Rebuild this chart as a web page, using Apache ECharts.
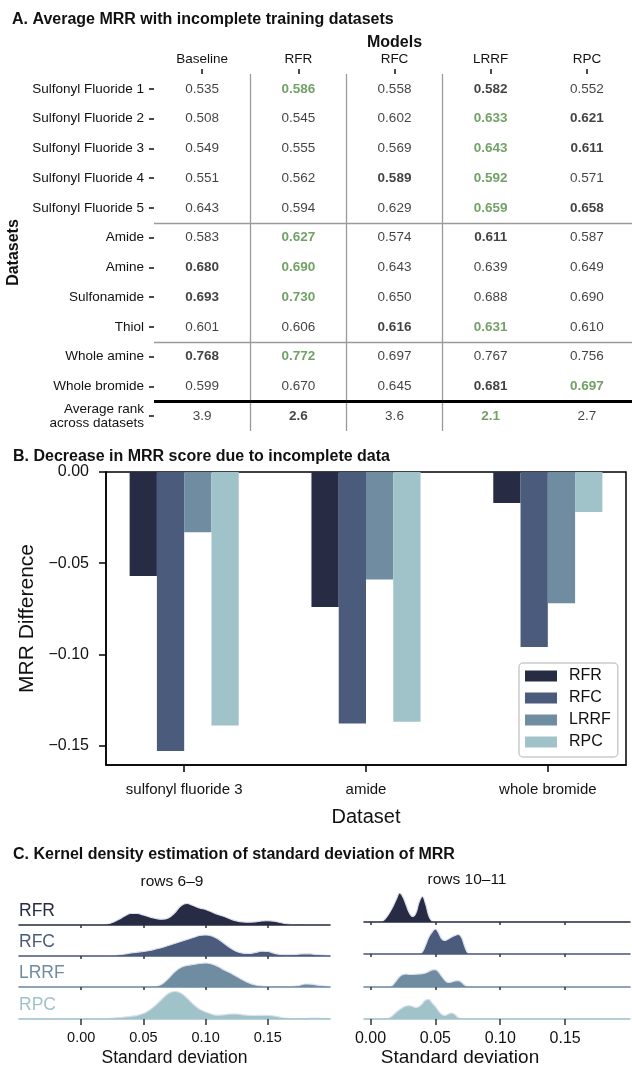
<!DOCTYPE html>
<html><head><meta charset="utf-8">
<script src="https://cdn.jsdelivr.net/npm/echarts@6/dist/echarts.min.js"></script>
<style>html,body{margin:0;padding:0;background:#fff}#c{width:632px;height:1072px}</style>
</head><body><div id="c"></div>
<script>
// ---------- Panel A data ----------
const models = ['Baseline', 'RFR', 'RFC', 'LRRF', 'RPC'];
const datasets = ['Sulfonyl Fluoride 1', 'Sulfonyl Fluoride 2', 'Sulfonyl Fluoride 3', 'Sulfonyl Fluoride 4', 'Sulfonyl Fluoride 5',
  'Amide', 'Amine', 'Sulfonamide', 'Thiol', 'Whole amine', 'Whole bromide'];
const rankLabel = 'Average rank\nacross datasets';
const mrrBaseline = [0.535, 0.508, 0.549, 0.551, 0.643, 0.583, 0.680, 0.693, 0.601, 0.768, 0.599];
const mrrRFR      = [0.586, 0.545, 0.555, 0.562, 0.594, 0.627, 0.690, 0.730, 0.606, 0.772, 0.670];
const mrrRFC      = [0.558, 0.602, 0.569, 0.589, 0.629, 0.574, 0.643, 0.650, 0.616, 0.697, 0.645];
const mrrLRRF     = [0.582, 0.633, 0.643, 0.592, 0.659, 0.611, 0.639, 0.688, 0.631, 0.767, 0.681];
const mrrRPC      = [0.552, 0.621, 0.611, 0.571, 0.658, 0.587, 0.649, 0.690, 0.610, 0.756, 0.697];
const avgRank     = [3.9, 2.6, 3.6, 2.1, 2.7];
const datasetGroupSizes = [5, 4, 2];
const modelDividers = [1, 2, 3];

// ---------- Panel B data ----------
const barCategories = ['sulfonyl fluoride 3', 'amide', 'whole bromide'];
const barModels = ['RFR', 'RFC', 'LRRF', 'RPC'];
const diffRFR  = [-0.057, -0.074, -0.017];
const diffRFC  = [-0.153, -0.138, -0.096];
const diffLRRF = [-0.033, -0.059, -0.072];
const diffRPC  = [-0.139, -0.137, -0.022];
const diffTicks = [0, -0.05, -0.10, -0.15];

// ---------- Panel C data ----------
const kdeModels = ['RFR', 'RFC', 'LRRF', 'RPC'];
const sdTicks = [0, 0.05, 0.10, 0.15];
const sdRows69 = [-0.05, 0.015, 0.020, 0.025, 0.030, 0.035, 0.040, 0.045, 0.050, 0.055, 0.060, 0.065, 0.070, 0.075, 0.080,
  0.085, 0.090, 0.095, 0.100, 0.105, 0.110, 0.115, 0.120, 0.125, 0.130, 0.135, 0.140, 0.145, 0.150, 0.155, 0.160,
  0.165, 0.170, 0.175, 0.180, 0.185, 0.190, 0.195, 0.200];
const kdeRFR69  = [0, 0, 0.5, 2.5, 5.5, 9, 11.5, 11.5, 10, 8, 6.5, 5.8, 7, 12, 19, 21.5, 19.5, 17, 15.5, 13, 10.5, 8.5, 6, 4, 3, 2.8, 3.2, 4, 4.3, 3.8, 2.5, 1.2, 0.5, 0.2, 0, 0, 0, 0, 0];
const kdeRFC69  = [0, 0, 0, 0.3, 1, 2, 3, 3.8, 4.5, 5.5, 7, 8.5, 10.5, 12.5, 14.5, 16.5, 18.5, 20.5, 21, 20, 17, 12.5, 8, 4.5, 2.8, 2.5, 3.5, 4.8, 4.5, 2.8, 1.5, 1.2, 1.3, 1.8, 2.2, 2, 1.3, 0.8, 0.5];
const kdeLRRF69 = [0, 0, 0, 0, 0, 0, 0, 0, 0, 0, 0.5, 3, 8.5, 15, 19.5, 21.5, 22.5, 23.5, 24, 23, 20.5, 17, 14, 10.5, 7, 4, 2, 1, 0.5, 0.3, 0.3, 0.3, 0.5, 1.5, 3, 2.8, 1.8, 1, 0.5];
const kdeRPC69  = [0, 0, 0.2, 0.7, 1.3, 2, 2.7, 3.7, 5.5, 9, 14, 20, 25.5, 27.5, 26, 21, 15, 10, 7, 4.8, 3.8, 4.2, 5, 5, 4.2, 3.6, 3.5, 3.7, 3.7, 3, 1.8, 0.8, 0.4, 0.3, 0.5, 0.8, 0.8, 0.6, 0.5];
const sdRows1011 = [-0.005, 0.005, 0.0075, 0.01, 0.0125, 0.015, 0.0175, 0.02, 0.0225, 0.025, 0.0275, 0.03, 0.0325, 0.035,
  0.0375, 0.04, 0.0425, 0.045, 0.0475, 0.05, 0.0525, 0.055, 0.0575, 0.06, 0.0625, 0.065, 0.0675, 0.07, 0.0725, 0.075,
  0.0775, 0.08, 0.2];
const kdeRFR1011  = [0, 0, 0, 1.5, 5, 10, 16, 23, 29, 25, 17, 9, 5.5, 9, 20, 25.5, 18, 6, 0.8, 0, 0, 0, 0, 0, 0, 0, 0, 0, 0, 0, 0, 0, 0];
const kdeRFC1011  = [0, 0, 0, 0, 0, 0, 0, 0, 0, 0, 0, 0, 0, 0, 0, 2, 9, 17, 22, 25, 21, 15, 13.5, 15, 17, 18.5, 19.5, 17, 8, 1, 0, 0, 0];
const kdeLRRF1011 = [0, 0, 0, 0, 0, 0, 2.5, 6.5, 10.5, 12.5, 13, 12.5, 12.5, 12.8, 13, 13.3, 14, 15.5, 17, 17.3, 15, 10.5, 6.5, 4.5, 5, 6, 6.3, 5, 2, 0.3, 0, 0, 0];
const kdeRPC1011  = [0, 0, 0, 0, 0, 1.5, 4, 7, 9.5, 11.5, 13, 13.3, 12.5, 11.5, 12.5, 15.5, 19, 19.5, 16, 12.5, 8, 4.5, 3.5, 5, 6, 4.5, 1.5, 0, 0, 0, 0, 0, 0];

// ---------- styling ----------
const FONT = 'Liberation Sans, Arial, Helvetica, sans-serif';
const INK = '#111111';
const GREEN = '#4f8a3f';
const PALETTE = ['#272c44', '#4b5b7b', '#6f8ca1', '#a0c2c9'];

// ---------- Panel A build ----------
const tableCols = [mrrBaseline, mrrRFR, mrrRFC, mrrLRRF, mrrRPC];
const rowLabels = datasets.concat([rankLabel]);
function ranks(vals, higherBetter) {
  const order = vals.map((v, i) => i).sort((a, b) => higherBetter ? vals[b] - vals[a] : vals[a] - vals[b]);
  return vals.map((v, i) => i === order[0] ? 'best' : (i === order[1] ? 'second' : 'normal'));
}
function cellLabel(text, st) {
  return { formatter: text, color: st === 'best' ? GREEN : INK, fontWeight: st === 'normal' ? 'normal' : 'bold' };
}
const cells = [];
datasets.forEach((d, r) => {
  const vals = tableCols.map(c => c[r]);
  const st = ranks(vals, true);
  vals.forEach((v, c) => cells.push({ value: [c, r, v], label: cellLabel(v.toFixed(3), st[c]) }));
});
const rankSt = ranks(avgRank, false);
avgRank.forEach((v, c) => cells.push({ value: [c, datasets.length, v], label: cellLabel(v.toFixed(1), rankSt[c]) }));

const rowBreaks = [];
datasetGroupSizes.reduce((acc, s) => { rowBreaks.push(acc + s); return acc + s; }, 0);
const sepLines = modelDividers.map(x => ({ xAxis: x }))
  .concat(rowBreaks.slice(0, -1).map(y => ({ yAxis: y })))
  .concat([{ yAxis: rowBreaks[rowBreaks.length - 1], lineStyle: { color: '#000', width: 3, type: 'solid' } }]);

// ---------- layout ----------
const grids = [
  { left: 154, top: 74, width: 481, height: 357, outerBoundsMode: 'none' },
  { left: 106, top: 472, width: 520, height: 293, show: true, borderColor: '#000', borderWidth: 1.5, backgroundColor: 'transparent', outerBoundsMode: 'none' }
];
const xAxes = [
  { type: 'category', gridIndex: 0, data: models, position: 'top',
    axisLine: { show: false },
    axisTick: { show: true, alignWithLabel: true, interval: 0, length: 5, lineStyle: { color: INK, width: 1.5 } },
    axisLabel: { interval: 0, fontSize: 13.5, color: INK, margin: 8, fontFamily: FONT },
    splitLine: { show: false },
    name: 'Models', nameLocation: 'middle', nameGap: 23,
    nameTextStyle: { fontSize: 16, fontWeight: 'bold', color: INK, fontFamily: FONT } },
  { type: 'value', gridIndex: 0, min: 0, max: models.length, show: false },
  { type: 'value', gridIndex: 1, min: -0.43, max: 2.43,
    axisLine: { show: true, onZero: false, lineStyle: { color: '#000', width: 1.5 } },
    axisTick: { show: true, customValues: [0, 1, 2], length: 7, lineStyle: { color: '#000', width: 1.5 } },
    axisLabel: { customValues: [0, 1, 2], formatter: v => barCategories[Math.round(v)], fontSize: 15, color: INK, margin: 17, fontFamily: FONT },
    splitLine: { show: false },
    name: 'Dataset', nameLocation: 'middle', nameGap: 42,
    nameTextStyle: { fontSize: 20, color: INK, fontFamily: FONT } }
];
const yAxes = [
  { type: 'category', gridIndex: 0, data: rowLabels, inverse: true,
    axisLine: { show: false },
    axisTick: { show: true, alignWithLabel: true, interval: 0, length: 5, lineStyle: { color: INK, width: 1.5 } },
    axisLabel: { interval: 0, fontSize: 13.5, color: INK, margin: 10, lineHeight: 14, fontFamily: FONT },
    splitLine: { show: false },
    name: 'Datasets', nameLocation: 'middle', nameGap: 118, nameRotate: 90,
    nameTextStyle: { fontSize: 16, fontWeight: 'bold', color: INK, fontFamily: FONT } },
  { type: 'value', gridIndex: 0, min: 0, max: rowLabels.length, inverse: true, show: false },
  { type: 'value', gridIndex: 1, min: -0.1607, max: 0,
    axisLine: { show: true, onZero: false, lineStyle: { color: '#000', width: 1.5 } },
    axisTick: { show: true, customValues: diffTicks, length: 7, lineStyle: { color: '#000', width: 1.5 } },
    axisLabel: { customValues: diffTicks, fontSize: 16, color: INK, margin: 17, fontFamily: FONT,
      formatter: v => { const s = Math.abs(v).toFixed(2); return v < -1e-9 ? '\u2212' + s : s; } },
    splitLine: { show: false },
    name: 'MRR Difference', nameLocation: 'middle', nameGap: 63, nameRotate: 90,
    nameTextStyle: { fontSize: 21, color: INK, fontFamily: FONT } }
];

const series = [
  { type: 'scatter', xAxisIndex: 0, yAxisIndex: 0, data: cells, symbol: 'circle', symbolSize: 1,
    itemStyle: { color: 'transparent' }, silent: true,
    label: { show: true, position: 'inside', fontSize: 13.5, fontFamily: FONT, color: INK } },
  { type: 'line', xAxisIndex: 1, yAxisIndex: 1, data: [], silent: true,
    markLine: { silent: true, symbol: ['none', 'none'], label: { show: false },
      lineStyle: { color: '#9a9a9a', width: 1.3, type: 'solid' }, data: sepLines } }
];
const diffs = [diffRFR, diffRFC, diffLRRF, diffRPC];
barModels.forEach((m, i) => {
  series.push({ type: 'bar', name: m, xAxisIndex: 2, yAxisIndex: 2,
    data: barCategories.map((c, j) => [j, diffs[i][j]]),
    barWidth: '15%', barGap: '0%', itemStyle: { color: PALETTE[i] } });
});

// ---------- Panel C grids ----------
const panels = [
  { xs: sdRows69, vals: [kdeRFR69, kdeRFC69, kdeLRRF69, kdeRPC69], left: 19, width: 311, min: -0.05,
    baselines: [925, 956, 987, 1019], tickFont: 14.5, labelMargin: 11, nameFont: 17.5, nameGap: 30, namePad: [0, 0, 0, 0], tag: 'rows 6–9' },
  { xs: sdRows1011, vals: [kdeRFR1011, kdeRFC1011, kdeLRRF1011, kdeRPC1011], left: 364, width: 266, min: -0.005,
    baselines: [922, 954, 987, 1019], tickFont: 16, labelMargin: 12, nameFont: 19, nameGap: 29, namePad: [0, 74, 0, 0], tag: 'rows 10–11' }
];
const ROWH = 31;
panels.forEach(p => {
  kdeModels.forEach((m, i) => {
    const g = grids.length, xi = xAxes.length, yi = yAxes.length;
    const bottom = i === kdeModels.length - 1;
    grids.push({ left: p.left, width: p.width, top: p.baselines[i] - ROWH, height: ROWH, outerBoundsMode: 'none' });
    xAxes.push({ type: 'value', gridIndex: g, min: p.min, max: 0.2, z: 5,
      axisLine: { show: true, onZero: false, lineStyle: { color: PALETTE[i], width: 1.6 } },
      axisTick: { show: true, customValues: sdTicks, length: bottom ? 6 : 3, lineStyle: { color: '#333', width: 1.5 } },
      axisLabel: { show: bottom, customValues: sdTicks, formatter: v => v.toFixed(2), fontSize: p.tickFont, color: INK, margin: p.labelMargin, fontFamily: FONT },
      splitLine: { show: false },
      name: bottom ? 'Standard deviation' : '', nameLocation: 'middle', nameGap: p.nameGap,
      nameTextStyle: { fontSize: p.nameFont, color: INK, fontFamily: FONT, padding: p.namePad } });
    yAxes.push({ type: 'value', gridIndex: g, min: 0, max: ROWH, show: false });
    series.push({ type: 'line', name: m + ' ' + p.tag, xAxisIndex: xi, yAxisIndex: yi,
      data: p.xs.map((x, j) => [x, p.vals[i][j]]), smooth: 0.4, symbol: 'none', silent: true,
      lineStyle: { color: '#dcdff0', width: 1.2 }, areaStyle: { color: PALETTE[i], opacity: 1 }, z: 3 });
  });
});

const graphics = kdeModels.map((m, i) => ({ type: 'text', left: 19, top: panels[0].baselines[i] - 23,
  style: { text: m, fill: PALETTE[i], font: '17.5px ' + FONT } }));

const titleStyle = { fontSize: 16, fontWeight: 'bold', color: INK, fontFamily: FONT, lineHeight: 18 };
const option = {
  animation: false,
  backgroundColor: '#ffffff',
  textStyle: { fontFamily: FONT },
  title: [
    { text: 'A. Average MRR with incomplete training datasets', left: 12, top: 11, padding: 0, textStyle: titleStyle },
    { text: 'B. Decrease in MRR score due to incomplete data', left: 13, top: 448, padding: 0, textStyle: titleStyle },
    { text: 'C. Kernel density estimation of standard deviation of MRR', left: 13, top: 846, padding: 0, textStyle: titleStyle },
    { text: 'rows 6–9', left: 172, top: 873, textAlign: 'center', padding: 0, textStyle: { fontSize: 15.5, fontWeight: 'normal', color: INK, fontFamily: FONT, lineHeight: 18 } },
    { text: 'rows 10–11', left: 467, top: 871, textAlign: 'center', padding: 0, textStyle: { fontSize: 15.5, fontWeight: 'normal', color: INK, fontFamily: FONT, lineHeight: 18 } }
  ],
  legend: { data: barModels, orient: 'vertical', left: 519, top: 663, itemWidth: 32, itemHeight: 11, itemGap: 6,
    icon: 'rect', backgroundColor: '#ffffff', borderColor: '#cccccc', borderWidth: 1.5, borderRadius: 4,
    padding: [5, 7, 7, 6], selectedMode: false,
    textStyle: { fontSize: 16, color: INK, lineHeight: 16, padding: [0, 0, 0, 7], fontFamily: FONT } },
  grid: grids, xAxis: xAxes, yAxis: yAxes, series: series, graphic: graphics
};
const chart = echarts.init(document.getElementById('c'), null, { renderer: 'canvas' });
chart.setOption(option);
</script></body></html>
